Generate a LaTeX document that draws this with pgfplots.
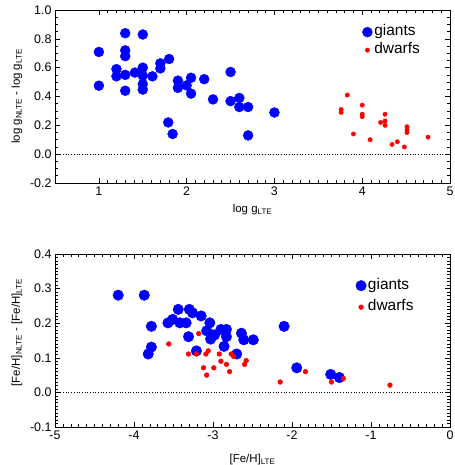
\documentclass[border=0pt]{standalone}
\usepackage{pgfplots}
\pgfplotsset{compat=1.18}
\usepackage{fontspec}
\setmainfont{Liberation Sans}
\definecolor{gblue}{RGB}{0,0,255}
\definecolor{dred}{RGB}{255,0,0}
\pgfplotsset{
  myax/.style={
    scale only axis, width=395bp, height=173bp,
    axis line style={line width=0.8pt},
    tick align=inside, tick pos=both,
    major tick length=5bp, minor tick length=2.8bp,
    every tick/.style={black, line width=0.6pt},
    tick label style={font=\fontsize{12.5}{14}\selectfont},
    label style={font=\fontsize{11.5}{14}\selectfont},
    legend image code/.code={\path (-5.5bp,0bp) (5.5bp,0bp); \draw[##1] plot coordinates {(0bp,0bp)};},
    legend style={draw=none, fill=none, font=\fontsize{15.5}{17}\selectfont,
      inner sep=0pt, column sep=0pt,
      nodes={inner xsep=1.2bp, inner ysep=0.5bp, text height=11bp, text depth=3.5bp}},
    legend cell align=left,
    clip=false,
  }
}
\begin{document}
\begin{tikzpicture}
\path[use as bounding box] (-55bp,-282bp) rectangle (400bp,183bp);
\begin{axis}[myax,
  xmin=0.5, xmax=5, ymin=-0.2, ymax=1.0,
  xtick={1,2,3,4,5}, xticklabels={1,2,3,4,5},
  minor x tick num=9,
  ytick={-0.2,0,0.2,0.4,0.6,0.8,1.0},
  yticklabels={-0.2,0.0,0.2,0.4,0.6,0.8,1.0},
  minor y tick num=3,
  xlabel={log g\textsubscript{\fontsize{8}{9}\selectfont LTE}},
  ylabel={log g\textsubscript{\fontsize{8}{9}\selectfont NLTE} - log g\textsubscript{\fontsize{8}{9}\selectfont LTE}},
  xlabel style={yshift=-2bp},
  ylabel style={yshift=1bp},
  legend style={at={(0.776,0.918)}, anchor=north west, row sep=2.5bp},
]
\addplot[only marks, mark=*, mark size=5pt, gblue, mark options={draw=gblue, fill=gblue}] coordinates {
(1.0,0.709) (1.0,0.475) (1.30,0.839) (1.50,0.83) (1.30,0.72) (1.30,0.68)
(1.20,0.59) (1.20,0.54) (1.30,0.55) (1.41,0.566) (1.50,0.60) (1.50,0.545)
(1.50,0.486) (1.50,0.448) (1.30,0.44) (1.61,0.54) (1.70,0.63) (1.70,0.595)
(1.80,0.66) (1.90,0.51) (1.90,0.46) (2.00,0.477) (2.05,0.53) (2.05,0.42)
(2.20,0.52) (2.50,0.57) (2.30,0.38) (2.50,0.368) (2.60,0.39) (2.60,0.327)
(2.70,0.327) (3.00,0.289) (1.79,0.22) (1.84,0.14) (2.70,0.13)
};
\addlegendentry{giants}
\addplot[only marks, mark=*, mark size=2.2pt, dred, mark options={draw=dred, fill=dred}] coordinates {
(3.83,0.41) (3.76,0.31) (3.76,0.29) (4.00,0.34) (4.00,0.277) (4.00,0.26)
(4.26,0.277) (4.21,0.22) (4.26,0.23) (4.26,0.20) (3.90,0.14) (4.09,0.10)
(4.51,0.19) (4.51,0.17) (4.51,0.15) (4.34,0.068) (4.40,0.086) (4.48,0.05)
(4.75,0.118)
};
\addlegendentry{dwarfs}
\addplot[black, dotted, line width=0.7pt, forget plot] coordinates {(0.5,0) (5,0)};
\end{axis}

\begin{axis}[myax, yshift=-244bp,
  xmin=-5, xmax=0, ymin=-0.1, ymax=0.4,
  xtick={-5,-4,-3,-2,-1,0}, xticklabels={-5,-4,-3,-2,-1,0},
  minor x tick num=9,
  ytick={-0.1,0,0.1,0.2,0.3,0.4},
  yticklabels={-0.1,0.0,0.1,0.2,0.3,0.4},
  minor y tick num=9,
  xlabel={[Fe/H]\textsubscript{\fontsize{8}{9}\selectfont LTE}},
  ylabel={[Fe/H]\textsubscript{\fontsize{8}{9}\selectfont NLTE} - [Fe/H]\textsubscript{\fontsize{8}{9}\selectfont LTE}},
  xlabel style={yshift=-8bp},
  ylabel style={yshift=1bp, xshift=8bp},
  legend style={at={(0.76,0.863)}, anchor=north west, row sep=6bp},
]
\addplot[only marks, mark=*, mark size=5.3pt, gblue, mark options={draw=gblue, fill=gblue}] coordinates {
(-4.20,0.281) (-3.87,0.281) (-3.78,0.191) (-3.78,0.131) (-3.82,0.111)
(-3.57,0.201) (-3.51,0.211) (-3.44,0.24) (-3.42,0.201) (-3.34,0.201)
(-3.30,0.24) (-3.26,0.23) (-3.15,0.221) (-3.31,0.161) (-3.21,0.12)
(-3.04,0.201) (-3.08,0.178) (-3.03,0.168) (-3.03,0.154) (-2.98,0.166)
(-2.90,0.182) (-2.83,0.182) (-2.83,0.161) (-2.86,0.133) (-2.70,0.111)
(-2.64,0.171) (-2.61,0.152) (-2.49,0.152) (-2.10,0.191) (-1.94,0.071)
(-1.51,0.052) (-1.40,0.043)
};
\addlegendentry{giants}
\addplot[only marks, mark=*, mark size=2.4pt, dred, mark options={draw=dred, fill=dred}] coordinates {
(-3.56,0.14) (-3.18,0.17) (-3.31,0.111) (-3.21,0.111) (-3.09,0.111)
(-3.06,0.12) (-2.92,0.111) (-2.77,0.111) (-2.74,0.104) (-2.90,0.09)
(-2.83,0.081) (-2.58,0.092) (-2.60,0.081) (-3.12,0.071) (-2.99,0.071)
(-2.79,0.06) (-3.08,0.05) (-2.15,0.03) (-1.83,0.06) (-1.50,0.03)
(-1.35,0.04) (-0.76,0.021)
};
\addlegendentry{dwarfs}
\addplot[black, dotted, line width=0.7pt, forget plot] coordinates {(-5,0) (0,0)};
\end{axis}
\end{tikzpicture}
\end{document}
